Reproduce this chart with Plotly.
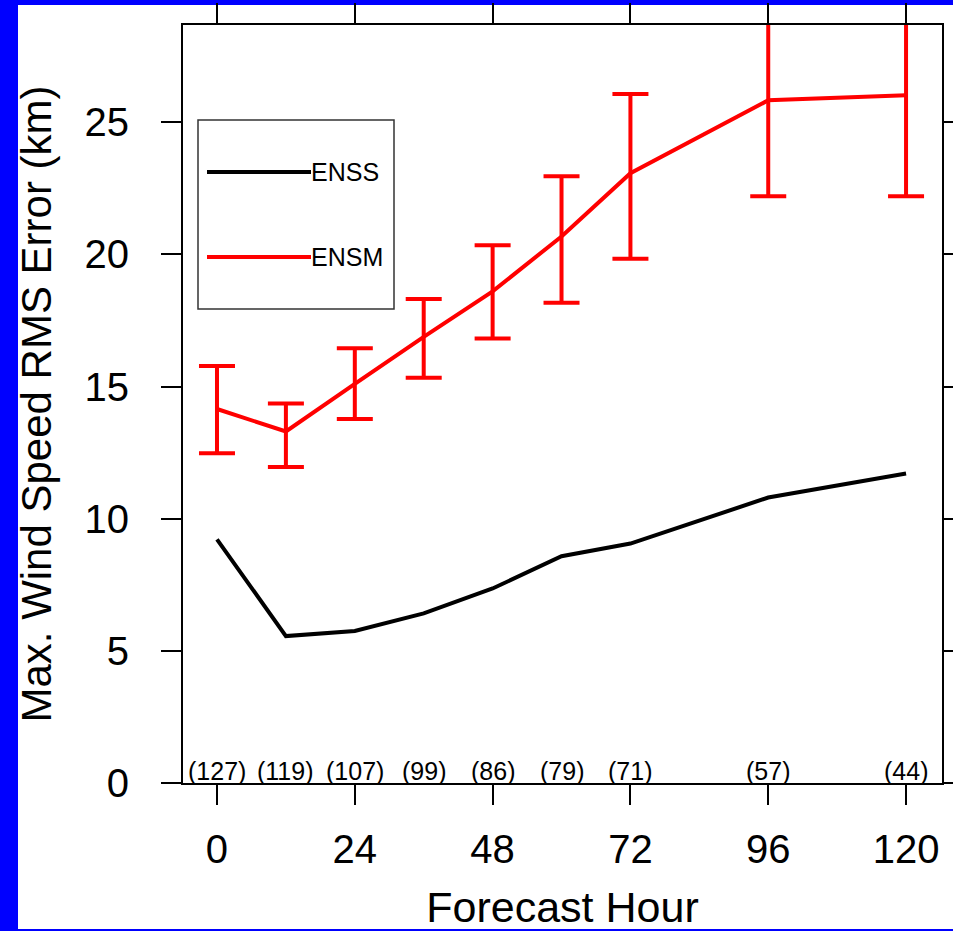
import plotly.graph_objects as go

# ---- data ----
hours = [0, 12, 24, 36, 48, 60, 72, 96, 120]
enss = [9.22, 5.56, 5.75, 6.42, 7.36, 8.58, 9.06, 10.80, 11.71]
ensm = [14.15, 13.30, 15.10, 16.88, 18.60, 20.68, 23.07, 25.83, 26.02]
ensm_err_plus = [1.63, 1.06, 1.35, 1.43, 1.75, 2.28, 3.00, 3.63, 3.82]
ensm_err_minus = [1.67, 1.34, 1.33, 1.55, 1.78, 2.51, 3.23, 3.63, 3.82]
counts = ["(127)", "(119)", "(107)", "(99)", "(86)", "(79)", "(71)", "(57)", "(44)"]
series_names = ["ENSS", "ENSM"]
series_colors = ["black", "red"]
x_ticks = [0, 24, 48, 72, 96, 120]
y_ticks = [0, 5, 10, 15, 20, 25]

FONT = "Liberation Sans, Arial, Helvetica, sans-serif"

W, H = 953, 931
L, R, T, B = 183, 11, 25, 148
pw, ph = W - L - R, H - T - B


def px_x(p):
    return (p - L) / pw


def px_y(p):
    return (H - B - p) / ph


fig = go.Figure()

fig.add_trace(go.Scatter(
    x=hours, y=enss, mode="lines", name=series_names[0],
    line=dict(color=series_colors[0], width=4), showlegend=False,
))
fig.add_trace(go.Scatter(
    x=hours, y=ensm, mode="lines", name=series_names[1],
    line=dict(color=series_colors[1], width=4), showlegend=False,
    error_y=dict(type="data", symmetric=False, array=ensm_err_plus,
                 arrayminus=ensm_err_minus, color="red", thickness=4, width=18),
))

# count labels above the x axis
for h, c in zip(hours, counts):
    fig.add_annotation(x=h, y=0, xref="x", yref="y", text=c, showarrow=False,
                       yanchor="bottom", yshift=-4,
                       font=dict(family=FONT, size=25, color="black"))

# white page on blue frame
fig.add_shape(type="rect", xref="paper", yref="paper",
              x0=px_x(18), x1=px_x(960), y0=px_y(929), y1=px_y(5),
              fillcolor="white", line=dict(width=0), layer="below")

# manual legend
fig.add_shape(type="rect", xref="paper", yref="paper",
              x0=px_x(198), x1=px_x(394), y0=px_y(309), y1=px_y(120),
              line=dict(color="#333333", width=1.5), fillcolor="rgba(0,0,0,0)")
for name, col, py in zip(series_names, series_colors, [172, 257]):
    fig.add_shape(type="line", xref="paper", yref="paper",
                  x0=px_x(207), x1=px_x(311), y0=px_y(py), y1=px_y(py),
                  line=dict(color=col, width=4))
    fig.add_annotation(x=px_x(309), y=px_y(py), xref="paper", yref="paper",
                       text=name, showarrow=False, xanchor="left", yanchor="middle",
                       font=dict(family=FONT, size=25, color="black"))

axis_common = dict(
    showline=True, linecolor="black", linewidth=2, mirror="ticks",
    ticks="outside", ticklen=20, tickwidth=2, tickcolor="black",
    showgrid=False, zeroline=False, automargin=False,
    tickfont=dict(family=FONT, size=40, color="black"),
)

fig.update_layout(
    width=W, height=H,
    margin=dict(l=L, r=R, t=T, b=B, autoexpand=False),
    paper_bgcolor="blue", plot_bgcolor="white",
    showlegend=False,
    xaxis=dict(range=[-5.92, 126.26], tickvals=x_ticks, ticklabelstandoff=10,
               title=dict(text="Forecast Hour", standoff=42,
                          font=dict(family=FONT, size=43, color="black")),
               **axis_common),
    yaxis=dict(range=[0, 28.68], tickvals=y_ticks, ticklabelstandoff=24,
               title=dict(text="Max. Wind Speed RMS Error (km)", standoff=20,
                          font=dict(family=FONT, size=42, color="black")),
               **axis_common),
)

fig.write_html("out.html")
